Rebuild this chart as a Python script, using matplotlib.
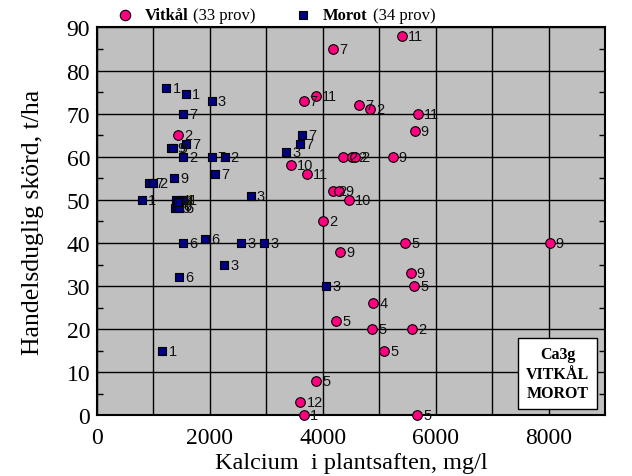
import matplotlib
matplotlib.use("Agg")
import matplotlib.pyplot as plt
from matplotlib.lines import Line2D
from matplotlib.ticker import MultipleLocator

# Vitkål (white cabbage): calcium mg/l, yield t/ha, label
vit_x = [4180, 3660, 3880, 1435, 3440, 3716, 5410, 4650, 4840, 5690, 5630,
         4360, 4520, 4570, 5240, 4175, 4293, 4470, 4000, 4306, 4240, 3887,
         3605, 3664, 5458, 8022, 5558, 5623, 4893, 4876, 5588, 5088, 5676]
vit_y = [85, 73, 74, 65, 58, 56, 88, 72, 71, 70, 66,
         60, 60, 60, 60, 52, 52, 50, 45, 38, 22, 8,
         3, 0, 40, 40, 33, 30, 26, 20, 20, 15, 0]
vit_lab = ['7', '7', '11', '2', '10', '11', '11', '7', '2', '11', '9',
           '2', '2', '2', '9', '2', '9', '10', '2', '9', '5', '5',
           '12', '1', '5', '9', '9', '5', '4', '5', '2', '5', '5']

# Morot (carrot)
mor_x = [1230, 1580, 2030, 1520, 1580, 1310, 1350, 1520, 2030, 2260,
         2090, 1370, 920, 1000, 800, 2720, 3350, 3640, 3590, 1520,
         1920, 2560, 2960, 2250, 1450, 4060, 1160,
         1400, 1480, 1520, 1380, 1420, 1460, 1440]
mor_y = [76, 74.5, 73, 70, 63, 62, 62, 60, 60, 60,
         56, 55, 54, 54, 50, 51, 61, 65, 63, 40,
         41, 40, 40, 35, 32, 30, 15,
         50, 50, 50, 48, 48.5, 48, 49.5]
mor_lab = ['1', '1', '3', '7', '7', '9', '9', '2', '7', '2',
           '7', '9', '7', '2', '1', '3', '3', '7', '7', '6',
           '6', '3', '3', '3', '6', '3', '1',
           '4', '1', '1', '6', '6', '6', '4']

x_ticks = [0, 2000, 4000, 6000, 8000]
y_ticks = [0, 10, 20, 30, 40, 50, 60, 70, 80, 90]

PINK = '#FF0080'
NAVY = '#000080'
SERIF = 'Liberation Serif'
SANS = 'Liberation Sans'

fig = plt.figure(figsize=(6.32, 4.77), dpi=100)
ax = fig.add_axes([97 / 632, 1 - 416.4 / 477, 508 / 632, 388 / 477])
ax.set_facecolor('#C0C0C0')
ax.set_xlim(0, 9000)
ax.set_ylim(0, 90)

ax.xaxis.set_major_locator(MultipleLocator(2000))
ax.xaxis.set_minor_locator(MultipleLocator(1000))
ax.yaxis.set_major_locator(MultipleLocator(10))
ax.yaxis.set_minor_locator(MultipleLocator(5))
ax.set_xticks(x_ticks)
ax.set_yticks(y_ticks)
ax.grid(True, which='major', color='black', linewidth=1.0)
ax.grid(True, which='minor', axis='x', color='black', linewidth=1.0)
ax.set_axisbelow(True)
ax.tick_params(axis='both', which='major', length=0,
               labelsize=17, labelfontfamily=SERIF)
ax.tick_params(axis='x', which='major', pad=8)
ax.tick_params(axis='y', which='major', pad=5)
ax.tick_params(axis='y', which='minor', direction='in', length=4,
               left=True, right=True, width=1)
ax.tick_params(axis='x', which='minor', length=0)
for s in ax.spines.values():
    s.set_linewidth(1.5)
    s.set_color('black')

ax.set_xlabel('Kalcium  i plantsaften, mg/l', fontsize=17.5, family=SERIF, labelpad=3)
ax.set_ylabel('Handelsduglig skörd, t/ha', fontsize=18.5, family=SERIF, labelpad=16)

ax.scatter(mor_x, mor_y, marker='s', s=40, c=NAVY, edgecolors='black',
           linewidths=0.8, zorder=3, clip_on=False)
for x, y, l in zip(mor_x, mor_y, mor_lab):
    ax.annotate(l, (x, y), xytext=(4.3, 0), textcoords='offset points',
                ha='left', va='center', fontsize=10.5, family=SANS, color='#111111',
                zorder=4, annotation_clip=False)

ax.scatter(vit_x, vit_y, marker='o', s=48, c=PINK, edgecolors='black',
           linewidths=0.8, zorder=5, clip_on=False)
for x, y, l in zip(vit_x, vit_y, vit_lab):
    ax.annotate(l, (x, y), xytext=(4.3, 0), textcoords='offset points',
                ha='left', va='center', fontsize=10.5, family=SANS, color='#111111',
                zorder=6, annotation_clip=False)

# Info box
ax.text(0.907, 0.036, 'Ca3g\nVITKÅL\nMOROT', transform=ax.transAxes,
        ha='center', va='bottom', multialignment='center',
        fontsize=11.5, fontweight='bold', family=SERIF,
        linespacing=1.3, zorder=10,
        bbox=dict(boxstyle='square,pad=0.5', facecolor='white', edgecolor='black',
                  linewidth=1.0))

# Legend at top
ly = 1 - 15.5 / 477
fig.add_artist(Line2D([124.5 / 632], [ly], marker='o', markersize=7.5,
                      markerfacecolor=PINK, markeredgecolor='black',
                      markeredgewidth=0.8, linestyle='none'))
fig.text(145 / 632, ly, 'Vitkål', fontsize=12, fontweight='bold', family=SERIF,
         ha='left', va='center')
fig.text(193 / 632, ly, '(33 prov)', fontsize=12, family=SERIF,
         ha='left', va='center')
fig.add_artist(Line2D([303 / 632], [ly], marker='s', markersize=6,
                      markerfacecolor=NAVY, markeredgecolor='black',
                      markeredgewidth=0.8, linestyle='none'))
fig.text(323 / 632, ly, 'Morot', fontsize=12, fontweight='bold', family=SERIF,
         ha='left', va='center')
fig.text(373 / 632, ly, '(34 prov)', fontsize=12, family=SERIF,
         ha='left', va='center')

fig.savefig('out.png', dpi=100)
